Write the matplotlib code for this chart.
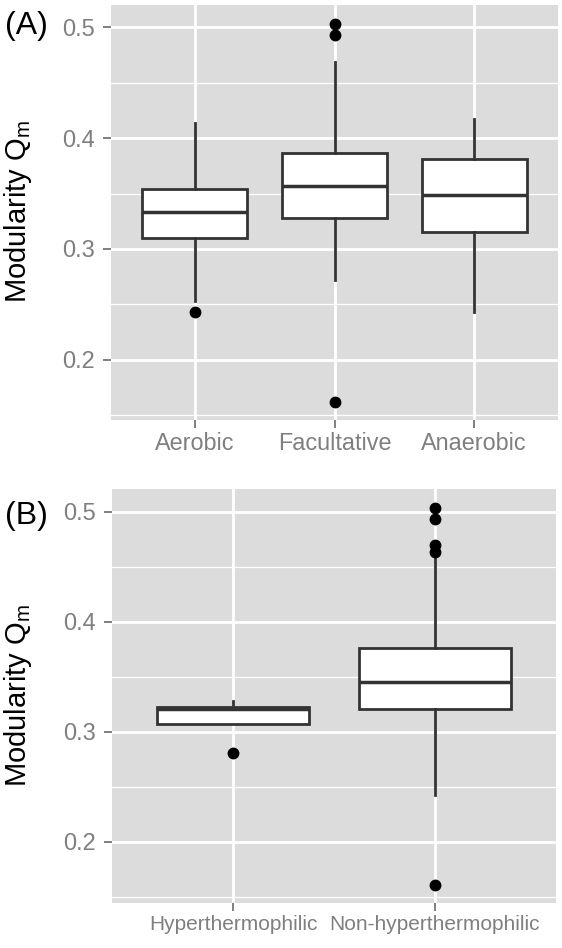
import matplotlib
matplotlib.use('Agg')
import matplotlib.pyplot as plt
from matplotlib.ticker import FixedLocator

plt.rcParams['font.family'] = ['Liberation Sans', 'DejaVu Sans']
plt.rcParams['mathtext.fontset'] = 'custom'
plt.rcParams['mathtext.rm'] = 'Liberation Sans'

# ---------------- data ----------------
# Panel A: oxygen requirement
cats_a = ['Aerobic', 'Facultative', 'Anaerobic']
whislo_a = [0.253, 0.272, 0.243]
q1_a = [0.310, 0.328, 0.3155]
med_a = [0.333, 0.357, 0.349]
q3_a = [0.354, 0.387, 0.381]
whishi_a = [0.4135, 0.469, 0.417]
fliers_a = [[0.243], [0.503, 0.493, 0.162], []]

# Panel B: temperature
cats_b = ['Hyperthermophilic', 'Non-hyperthermophilic']
whislo_b = [0.307, 0.2425]
q1_b = [0.307, 0.3204]
med_b = [0.321, 0.345]
q3_b = [0.3225, 0.3758]
whishi_b = [0.328, 0.4615]
fliers_b = [[0.281], [0.503, 0.4934, 0.4697, 0.4636, 0.1607]]

yticks = [0.2, 0.3, 0.4, 0.5]
yminor = [0.15, 0.25, 0.35, 0.45]
ytick_labels = ['0.2', '0.3', '0.4', '0.5']

BG = '#DCDCDC'
DARK = '#333333'
GREY = '#7F7F7F'

fig = plt.figure(figsize=(5.62, 9.48), dpi=100)
W, H = 562.0, 948.0


def make_axes(l, t, r, b):
    return fig.add_axes([l / W, 1 - b / H, (r - l) / W, (b - t) / H])


def draw_panel(ax, cats, wlo, q1, med, q3, whi, fl, ylim, xfs):
    stats = []
    for i, c in enumerate(cats):
        stats.append(dict(label=c, whislo=wlo[i], q1=q1[i], med=med[i],
                          q3=q3[i], whishi=whi[i], fliers=fl[i]))
    pos = list(range(1, len(cats) + 1))
    ax.set_facecolor(BG)
    for s in ax.spines.values():
        s.set_visible(False)
    ax.set_axisbelow(True)
    ax.bxp(stats, positions=pos, widths=0.75, patch_artist=True,
           showcaps=False,
           boxprops=dict(facecolor='white', edgecolor=DARK, linewidth=2.0),
           medianprops=dict(color=DARK, linewidth=2.5),
           whiskerprops=dict(color=DARK, linewidth=2.0),
           flierprops=dict(marker='o', markerfacecolor='black',
                           markeredgecolor='black', markersize=7.5))
    ax.set_xlim(0.4, len(cats) + 0.6)
    ax.set_ylim(*ylim)
    ax.yaxis.set_major_locator(FixedLocator(yticks))
    ax.set_yticklabels(ytick_labels)
    ax.yaxis.set_minor_locator(FixedLocator(yminor))
    ax.set_xticks(pos)
    ax.set_xticklabels(cats)
    ax.grid(True, which='major', color='white', linewidth=2.0)
    ax.grid(True, which='minor', axis='y', color='white', linewidth=0.9)
    ax.tick_params(axis='both', which='major', color=GREY, length=5.5,
                   width=1.4, labelcolor=GREY)
    ax.tick_params(axis='y', which='major', labelsize=17, pad=6)
    ax.tick_params(axis='x', which='major', labelsize=xfs, pad=3)
    ax.tick_params(axis='y', which='minor', length=0)


axA = make_axes(111, 5, 558, 420)
draw_panel(axA, cats_a, whislo_a, q1_a, med_a, q3_a, whishi_a, fliers_a,
           (0.1455, 0.5203), 16.8)

axB = make_axes(112, 489, 556, 903)
draw_panel(axB, cats_b, whislo_b, q1_b, med_b, q3_b, whishi_b, fliers_b,
           (0.1445, 0.5206), 15.0)

ylab = r'Modularity Q$_{\mathregular{m}}$'
fig.text(18 / W, 1 - 212 / H, ylab, rotation=90, ha='center', va='center',
         fontsize=21, color='black')
fig.text(18 / W, 1 - 696 / H, ylab, rotation=90, ha='center', va='center',
         fontsize=21, color='black')

fig.text(5 / W, 1 - 26 / H, '(A)', ha='left', va='center', fontsize=23,
         color='black')
fig.text(5 / W, 1 - 516 / H, '(B)', ha='left', va='center', fontsize=23,
         color='black')

fig.savefig('out.png', dpi=100, facecolor='white')
